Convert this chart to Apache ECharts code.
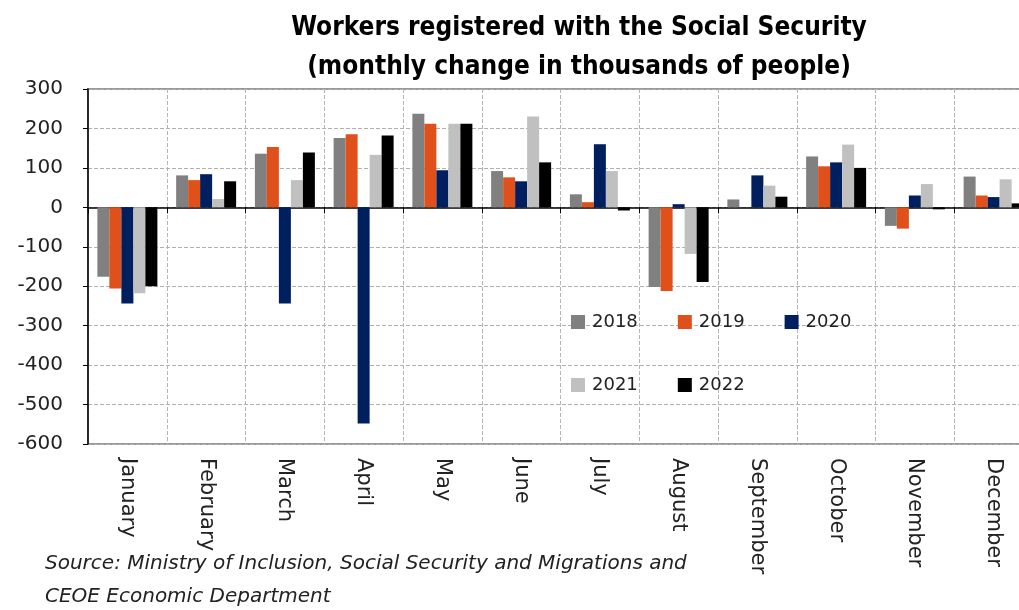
<!DOCTYPE html>
<html>
<head>
<meta charset="utf-8">
<script src="https://cdn.jsdelivr.net/npm/echarts@6/dist/echarts.min.js"></script>
<style>html,body{margin:0;padding:0;background:#fff;}#c{width:1019px;height:610px;}</style>
</head>
<body>
<div id="c"></div>
<script>
const months = ["January","February","March","April","May","June","July","August","September","October","November","December"];
const yTicks = [-600,-500,-400,-300,-200,-100,0,100,200,300];
const s2018 = [-176, 81, 136, 176, 237, 92, 33, -202, 20, 129, -47, 78];
const s2019 = [-206, 69, 153, 185, 212, 76, 13, -212, 0, 104, -54, 30];
const s2020 = [-244, 84, -244, -548, 94, 66, 160, 8, 81, 114, 30, 26];
const s2021 = [-218, 21, 69, 133, 212, 230, 92, -118, 55, 159, 59, 71];
const s2022 = [-200, 66, 139, 182, 212, 114, -8, -189, 27, 100, -5, 10];
const seriesNames = ["2018","2019","2020","2021","2022"];
const colors = ["#808080","#E0501A","#001F5F","#C0C0C0","#000000"];
const allData = [s2018, s2019, s2020, s2021, s2022];

const FONT = "DejaVu Sans";
const chart = echarts.init(document.getElementById('c'), null, {renderer:'canvas'});
chart.setOption({
  animation:false,
  textStyle:{fontFamily:FONT},
  title:{
    text:"Workers registered with the Social Security\n(monthly change in thousands of people)",
    left:574, top:4, textAlign:'center',
    textStyle:{fontFamily:"DejaVu Sans Condensed", fontWeight:'bold', fontSize:26, lineHeight:39, color:'#000'}
  },
  grid:{left:88, top:89, width:945, height:355, outerBoundsMode:'none', show:true, borderColor:'#9a9a9a', borderWidth:2, backgroundColor:'transparent'},
  legend:[
    {data:["2018","2019","2020"], left:571, top:313, padding:0, itemWidth:14, itemHeight:14, itemGap:40,
     icon:'rect', textStyle:{fontSize:18, color:'#222', fontFamily:FONT, padding:[0,0,0,2]}},
    {data:["2021","2022"], left:571, top:376, padding:0, itemWidth:14, itemHeight:14, itemGap:40,
     icon:'rect', textStyle:{fontSize:18, color:'#222', fontFamily:FONT, padding:[0,0,0,2]}}
  ],
  xAxis:[
    {type:'category', data:months, position:'bottom',
     axisLine:{onZero:true, lineStyle:{color:'#000', width:1.5}},
     axisTick:{show:true, interval:0, length:6, lineStyle:{color:'#000'}},
     axisLabel:{show:false},
     splitLine:{show:true, interval:0, lineStyle:{type:'dashed', color:'#b5b5b5'}}},
    {type:'category', data:months, position:'bottom',
     axisLine:{show:false}, axisTick:{show:false},
     axisLabel:{show:true, interval:0, rotate:-90, margin:14, fontSize:21, color:'#222', fontFamily:FONT},
     splitLine:{show:false}}
  ],
  yAxis:{
    type:'value', min:-600, max:300, interval:100,
    axisLine:{show:true, lineStyle:{color:'#000', width:1.5}},
    axisTick:{show:true, length:5, lineStyle:{color:'#000'}},
    axisLabel:{fontSize:20, color:'#222', margin:25, fontFamily:FONT,
      formatter:function(v){return yTicks.indexOf(v)>=0 ? String(v) : '';}},
    splitLine:{show:true, lineStyle:{type:'dashed', color:'#b0b0b0'}}
  },
  series: seriesNames.map(function(n,i){
    return {name:n, type:'bar', xAxisIndex:0, data:allData[i], barWidth:12, barGap:'0%',
      itemStyle:{color:colors[i]}};
  }),
  graphic:[
    {type:'text', left:45, top:554, style:{text:"Source: Ministry of Inclusion, Social Security and Migrations and", font:"oblique 20px 'DejaVu Sans'", fill:'#222'}},
    {type:'text', left:45, top:587, style:{text:"CEOE Economic Department", font:"oblique 20px 'DejaVu Sans'", fill:'#222'}}
  ]
});
</script>
</body>
</html>
